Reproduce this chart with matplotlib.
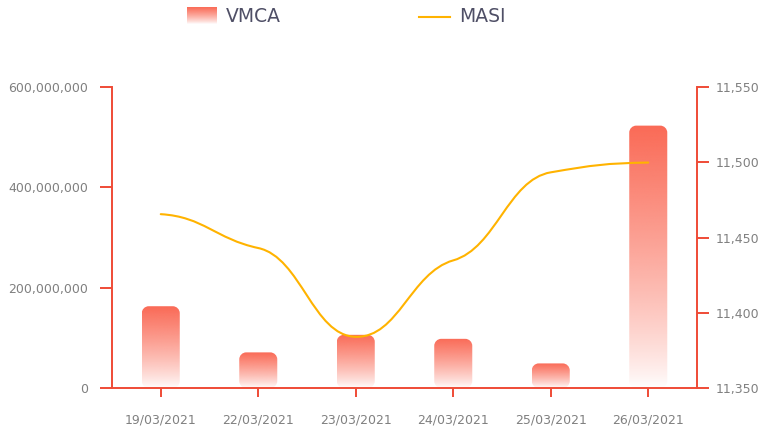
import numpy as np
import matplotlib
matplotlib.use("Agg")
import matplotlib.pyplot as plt
from matplotlib.patches import PathPatch
from matplotlib.path import Path
from matplotlib.lines import Line2D
from matplotlib.ticker import FuncFormatter

categories = ["19/03/2021", "22/03/2021", "23/03/2021", "24/03/2021", "25/03/2021", "26/03/2021"]
vmca = [163e6, 71e6, 106e6, 98e6, 49e6, 523e6]
masi = [11465.5, 11443, 11384, 11434.8, 11493.3, 11499.8]
left_ticks = [0, 200e6, 400e6, 600e6]
right_ticks = [11350, 11400, 11450, 11500, 11550]

RED = "#ef4b36"
BAR_RGB = (250/255, 106/255, 86/255)
LINE_C = "#ffb300"
TICK_C = "#808080"
LEG_C = "#4f4f66"

W, H = 760, 429
fig = plt.figure(figsize=(W/100, H/100), dpi=100)
ax_l, ax_r, ax_b, ax_t = 112, 697, 388, 87
ax = fig.add_axes([ax_l/W, 1-ax_b/H, (ax_r-ax_l)/W, (ax_b-ax_t)/H])
ax2 = ax.twinx()

x = np.arange(len(categories))
xlim = (-0.5, len(categories)-0.5)
ylim = (0, 600e6)
ylim2 = (11350, 11550)

px_w = ax_r - ax_l
px_h = ax_b - ax_t
xu = (xlim[1]-xlim[0]) / px_w
yu = (ylim[1]-ylim[0]) / px_h


def rounded_rect(x0, y0, w, h, rx, ry):
    kp = 0.5523
    x1, y1 = x0 + w, y0 + h
    verts = [
        (x0 + rx, y0), (x1 - rx, y0),
        (x1 - rx + kp*rx, y0), (x1, y0 + ry - kp*ry), (x1, y0 + ry),
        (x1, y1 - ry),
        (x1, y1 - ry + kp*ry), (x1 - rx + kp*rx, y1), (x1 - rx, y1),
        (x0 + rx, y1),
        (x0 + rx - kp*rx, y1), (x0, y1 - ry + kp*ry), (x0, y1 - ry),
        (x0, y0 + ry),
        (x0, y0 + ry - kp*ry), (x0 + rx - kp*rx, y0), (x0 + rx, y0),
        (x0 + rx, y0),
    ]
    codes = [Path.MOVETO, Path.LINETO,
             Path.CURVE4, Path.CURVE4, Path.CURVE4,
             Path.LINETO,
             Path.CURVE4, Path.CURVE4, Path.CURVE4,
             Path.LINETO,
             Path.CURVE4, Path.CURVE4, Path.CURVE4,
             Path.LINETO,
             Path.CURVE4, Path.CURVE4, Path.CURVE4,
             Path.CLOSEPOLY]
    return Path(verts, codes)


# bars with gradient and rounded corners
bw = 0.39
rad = 7
t = np.linspace(1.0, 0.0, 256)
grad = np.zeros((256, 1, 4))
grad[:, 0, 0:3] = BAR_RGB
grad[:, 0, 3] = t**0.8
for xi, v in zip(x, vmca):
    clip = PathPatch(rounded_rect(xi-bw/2, 0, bw, v, rad*xu, rad*yu),
                     transform=ax.transData)
    im = ax.imshow(grad, extent=(xi-bw/2, xi+bw/2, 0, v), aspect="auto",
                   origin="upper", interpolation="bilinear", zorder=2)
    im.set_clip_path(clip)

ax.set_xlim(*xlim)
ax.set_ylim(*ylim)
ax2.set_ylim(*ylim2)

# smooth line: bezier with damped Catmull-Rom tangents
k = 0.45
a = 0.44
yv = np.array(masi, dtype=float)
n = len(yv)
ypad = np.concatenate([[yv[0]], yv, [yv[-1]]])
m = k * (ypad[2:] - ypad[:-2]) / 2.0
verts = [(x[0], yv[0])]
codes = [Path.MOVETO]
for i in range(n-1):
    verts += [(x[i] + a, yv[i] + m[i]/3),
              (x[i+1] - a, yv[i+1] - m[i+1]/3),
              (x[i+1], yv[i+1])]
    codes += [Path.CURVE4]*3
ax2.add_patch(PathPatch(Path(np.array(verts), codes), fill=False, edgecolor=LINE_C,
                        lw=1.5, zorder=5, capstyle="round"))

# axes styling
for s in ["top"]:
    ax.spines[s].set_visible(False)
    ax2.spines[s].set_visible(False)
ax.spines["right"].set_visible(False)
ax2.spines["left"].set_visible(False)
ax2.spines["bottom"].set_visible(False)
for sp in [ax.spines["left"], ax.spines["bottom"], ax2.spines["right"]]:
    sp.set_color(RED)
    sp.set_linewidth(1.4)

ax.set_xticks(x)
ax.set_xticklabels(categories)
ax.set_yticks(left_ticks)
ax.yaxis.set_major_formatter(FuncFormatter(lambda v, p: f"{int(v):,}"))
ax2.set_yticks(right_ticks)
ax2.yaxis.set_major_formatter(FuncFormatter(lambda v, p: f"{int(v):,}"))
ax.tick_params(axis="x", length=6.5, width=1.4, color=RED, pad=12,
               labelsize=9, labelcolor=TICK_C)
ax.tick_params(axis="y", length=8.6, width=1.4, color=RED, pad=8.6,
               labelsize=9, labelcolor=TICK_C)
ax2.tick_params(axis="y", length=8.6, width=1.4, color=RED, pad=5,
                labelsize=9, labelcolor=TICK_C)
ax.set_zorder(1)
ax2.set_zorder(2)
ax2.patch.set_visible(False)

# legend
lax = fig.add_axes([187/W, 1-24/H, 30/W, 17/H])
lgrad = np.zeros((64, 1, 4))
lgrad[:, 0, 0:3] = BAR_RGB
lgrad[:, 0, 3] = np.linspace(1.0, 0.0, 64)**0.8
lax.imshow(lgrad, aspect="auto", extent=(0, 1, 0, 1), interpolation="bilinear")
lax.axis("off")
fig.text(226/W, 1-16/H, "VMCA", fontsize=13.5, color=LEG_C, va="center", ha="left")
fig.add_artist(Line2D([419/W, 450/W], [1-17/H, 1-17/H], color=LINE_C, lw=1.5,
                      transform=fig.transFigure))
fig.text(459/W, 1-16/H, "MASI", fontsize=13.5, color=LEG_C, va="center", ha="left")

fig.savefig("out.png", dpi=100)
